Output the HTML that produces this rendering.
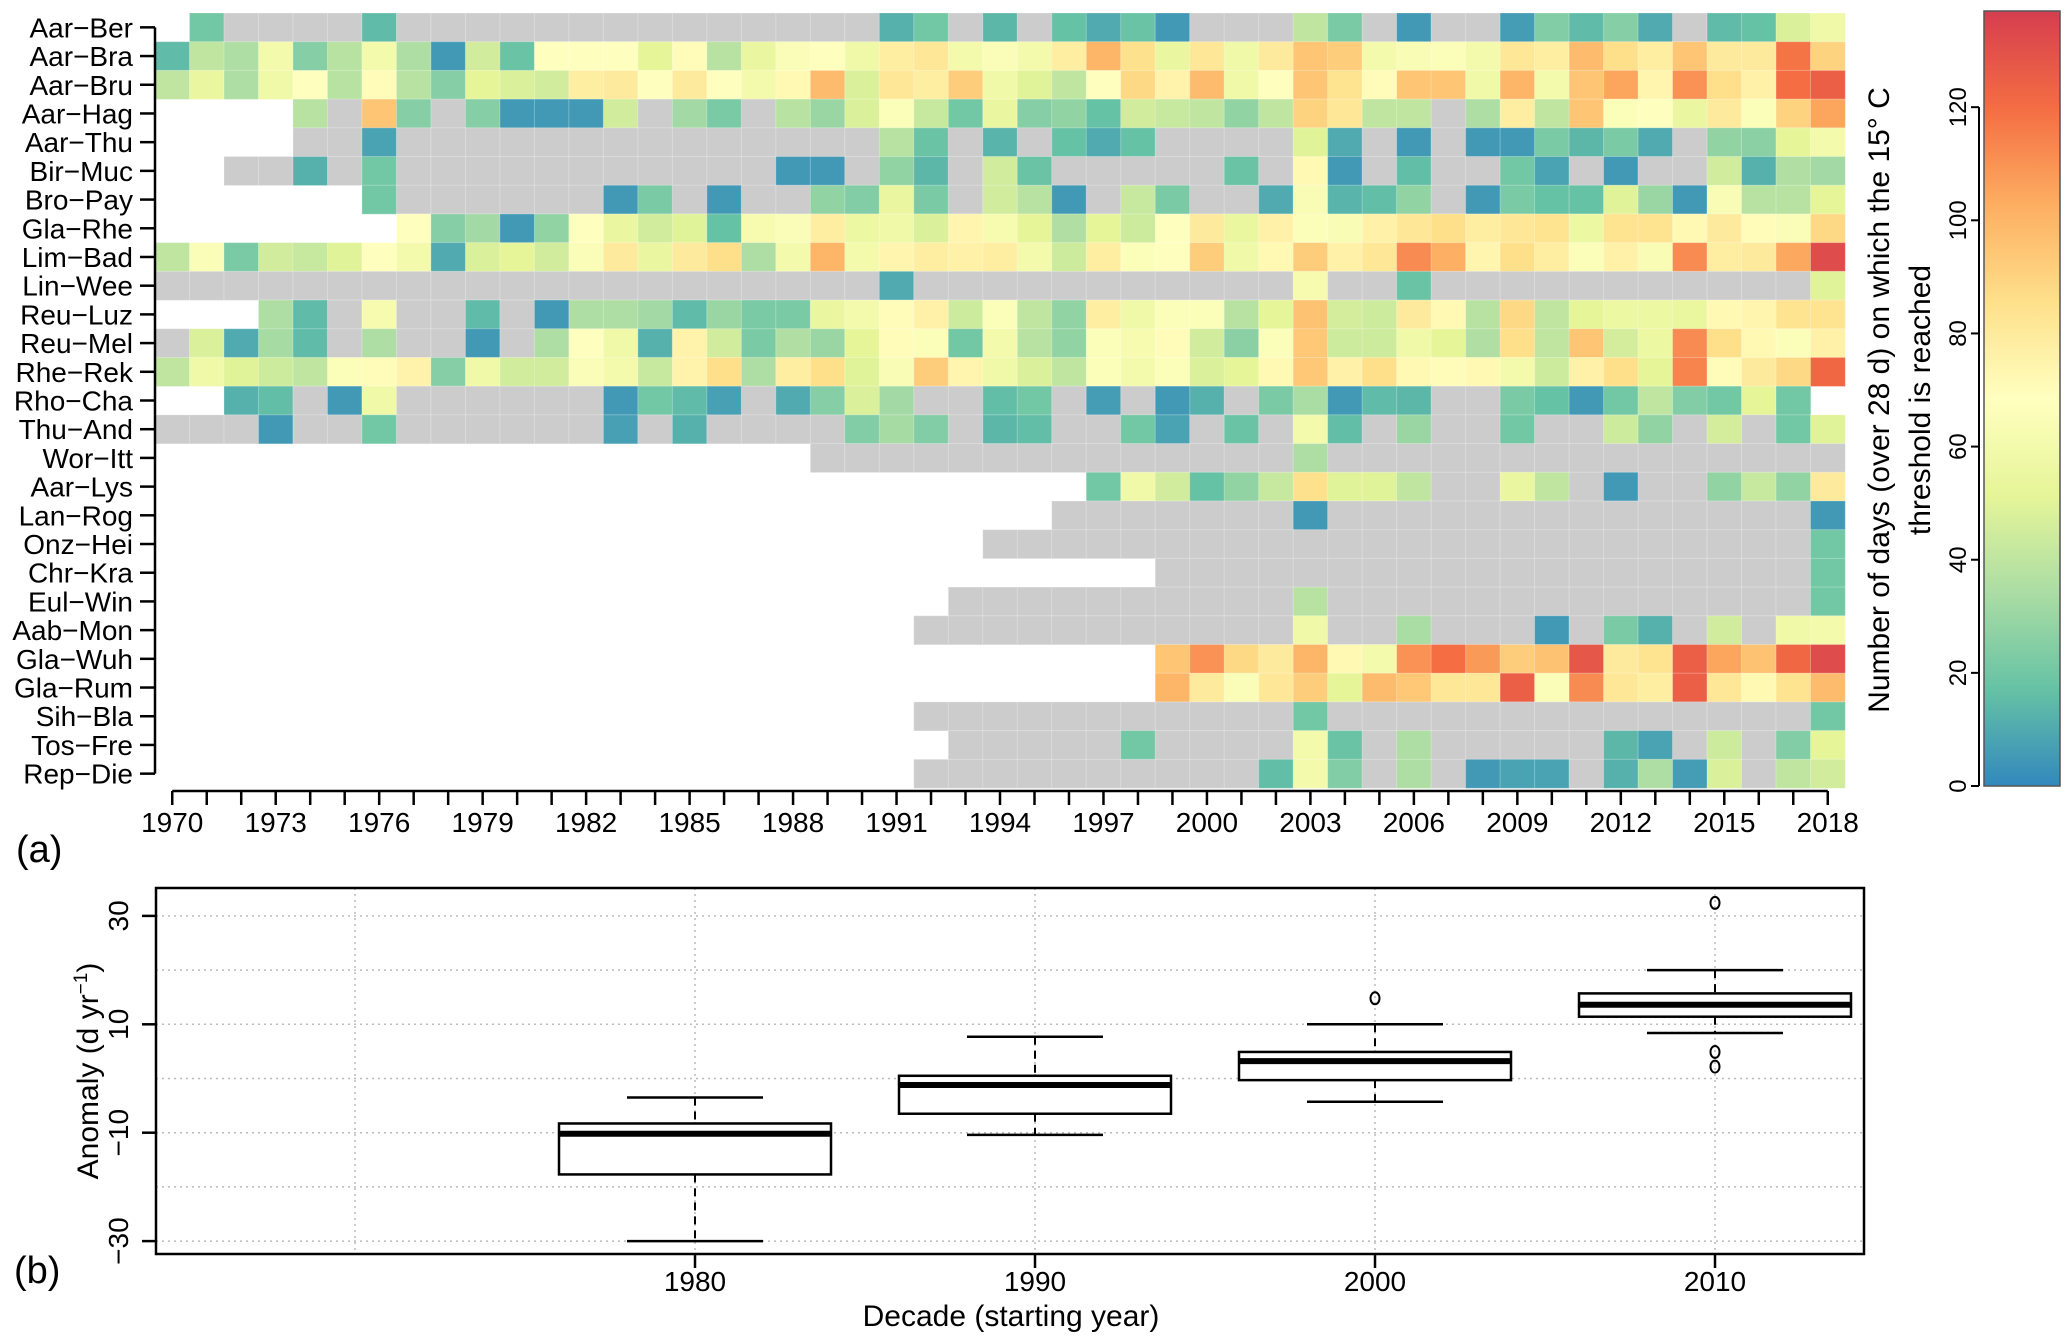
<!DOCTYPE html>
<html><head><meta charset="utf-8"><style>
html,body{margin:0;padding:0;background:#fff;}
svg{display:block;font-family:"Liberation Sans",Arial,sans-serif;}
</style></head><body>
<svg id="fig" width="2067" height="1344" viewBox="0 0 2067 1344" xmlns="http://www.w3.org/2000/svg">
<defs><linearGradient id="cbg" x1="0" y1="1" x2="0" y2="0">
<stop offset="0" stop-color="#3288BD"/><stop offset="0.125" stop-color="#66C2A5"/><stop offset="0.25" stop-color="#ABDDA4"/><stop offset="0.375" stop-color="#E6F598"/><stop offset="0.5" stop-color="#FFFFBF"/><stop offset="0.625" stop-color="#FEE08B"/><stop offset="0.75" stop-color="#FDAE61"/><stop offset="0.875" stop-color="#F46D43"/><stop offset="1" stop-color="#D53E4F"/></linearGradient></defs>
<g id="heat"></g>
<g id="heataxes"></g>
<g id="cbar"></g>
<text x="16" y="862" font-size="38">(a)</text>
<g id="box"></g>
<text x="14" y="1283" font-size="38">(b)</text>
</svg>
<script>
const n = null;
const stations = ["Aar-Ber","Aar-Bra","Aar-Bru","Aar-Hag","Aar-Thu","Bir-Muc","Bro-Pay","Gla-Rhe","Lim-Bad","Lin-Wee","Reu-Luz","Reu-Mel","Rhe-Rek","Rho-Cha","Thu-And","Wor-Itt","Aar-Lys","Lan-Rog","Onz-Hei","Chr-Kra","Eul-Win","Aab-Mon","Gla-Wuh","Gla-Rum","Sih-Bla","Tos-Fre","Rep-Die"];
const years = [1970,1971,1972,1973,1974,1975,1976,1977,1978,1979,1980,1981,1982,1983,1984,1985,1986,1987,1988,1989,1990,1991,1992,1993,1994,1995,1996,1997,1998,1999,2000,2001,2002,2003,2004,2005,2006,2007,2008,2009,2010,2011,2012,2013,2014,2015,2016,2017,2018];
const yearTickLabels = [1970,1973,1976,1979,1982,1985,1988,1991,1994,1997,2000,2003,2006,2009,2012,2015,2018];
const rowAarBer = [n,20,0,0,0,0,15,0,0,0,0,0,0,0,0,0,0,0,0,0,0,12,20,0,14,0,17,10,18,5,0,0,0,40,22,0,5,0,0,6,24,15,25,10,0,15,17,48,58];
const rowAarBra = [15,40,35,60,25,38,60,35,5,45,18,68,68,68,52,70,38,55,65,68,58,78,82,60,65,60,78,100,85,55,82,58,80,95,92,60,64,66,60,82,78,98,86,78,95,80,80,118,90];
const rowAarBru = [40,55,35,58,68,38,70,38,25,52,48,45,78,80,68,80,68,60,72,98,48,82,78,92,58,50,40,68,88,75,98,58,68,95,84,70,95,95,58,100,60,95,105,74,110,86,76,120,125];
const rowAarHag = [n,n,n,n,38,0,95,25,0,25,5,5,5,45,0,32,22,0,38,30,48,66,42,20,55,25,28,17,45,42,40,28,40,90,82,40,40,0,35,78,40,95,66,68,55,80,66,90,105];
const rowAarThu = [n,n,n,n,0,0,8,0,0,0,0,0,0,0,0,0,0,0,0,0,0,38,18,0,13,0,17,10,17,0,0,0,0,50,10,0,5,0,5,5,22,14,22,10,0,28,26,52,60];
const rowBirMuc = [n,n,0,0,12,0,20,0,0,0,0,0,0,0,0,0,0,0,5,5,0,28,14,0,45,18,0,0,0,0,0,18,0,72,5,0,16,0,0,20,8,0,5,0,0,45,12,36,32];
const rowBroPay = [n,n,n,n,n,n,20,0,0,0,0,0,0,5,22,0,5,0,0,28,24,55,22,0,45,38,5,0,42,22,0,0,10,64,13,16,28,0,5,22,17,17,50,30,5,64,38,38,52];
const rowGlaRhe = [n,n,n,n,n,n,n,68,25,32,5,28,68,55,45,50,17,62,65,78,56,58,48,74,62,52,36,52,44,68,80,54,76,66,64,76,82,86,78,82,84,56,84,84,72,80,70,65,88];
const rowLimBad = [40,65,22,45,42,50,68,60,10,48,52,45,65,80,55,80,86,35,60,100,60,74,78,76,78,60,44,78,66,68,92,58,72,92,76,82,112,102,74,86,78,66,76,64,112,78,80,104,132];
const rowLinWee = [0,0,0,0,0,0,0,0,0,0,0,0,0,0,0,0,0,0,0,0,0,10,0,0,0,0,0,0,0,0,0,0,0,62,0,0,18,0,0,0,0,0,0,0,0,0,0,0,50];
const rowReuLuz = [n,n,n,35,15,0,62,0,0,15,0,5,35,35,32,15,30,22,22,55,60,70,76,44,66,40,28,78,58,66,66,38,52,96,46,44,80,72,38,88,40,52,56,56,54,72,74,84,84];
const rowReuMel = [0,48,10,33,15,0,35,0,0,5,0,35,68,58,12,75,45,22,36,30,52,70,66,20,60,38,28,66,62,70,45,26,66,94,44,44,58,52,36,86,40,95,46,56,112,86,72,66,76];
const rowRheRek = [40,58,50,44,40,66,70,75,25,58,45,45,65,60,42,75,86,35,78,86,50,64,92,74,58,48,40,66,60,66,48,52,72,94,76,86,72,70,72,60,44,76,86,52,114,70,80,88,122];
const rowRhoCha = [n,n,12,16,0,5,58,0,0,0,0,0,0,5,20,15,7,0,10,25,48,32,0,0,16,20,0,6,0,5,12,0,22,34,5,15,14,0,0,22,17,5,20,40,24,20,52,20,n];
const rowThuAnd = [0,0,0,5,0,0,20,0,0,0,0,0,0,7,0,12,0,0,0,0,24,33,24,0,14,16,0,0,20,8,0,18,0,60,16,0,30,0,0,20,0,0,44,28,0,46,0,20,50];
const rowWorItt = [n,n,n,n,n,n,n,n,n,n,n,n,n,n,n,n,n,n,n,0,0,0,0,0,0,0,0,0,0,0,0,0,0,35,0,0,0,0,0,0,0,0,0,0,0,0,0,0,0];
const rowAarLys = [n,n,n,n,n,n,n,n,n,n,n,n,n,n,n,n,n,n,n,n,n,n,n,n,n,n,n,20,58,45,17,28,42,85,50,50,40,0,0,55,40,0,5,0,0,28,42,28,80];
const rowLanRog = [n,n,n,n,n,n,n,n,n,n,n,n,n,n,n,n,n,n,n,n,n,n,n,n,n,n,0,0,0,0,0,0,0,5,0,0,0,0,0,0,0,0,0,0,0,0,0,0,5];
const rowOnzHei = [n,n,n,n,n,n,n,n,n,n,n,n,n,n,n,n,n,n,n,n,n,n,n,n,0,0,0,0,0,0,0,0,0,0,0,0,0,0,0,0,0,0,0,0,0,0,0,0,20];
const rowChrKra = [n,n,n,n,n,n,n,n,n,n,n,n,n,n,n,n,n,n,n,n,n,n,n,n,n,n,n,n,n,0,0,0,0,0,0,0,0,0,0,0,0,0,0,0,0,0,0,0,20];
const rowEulWin = [n,n,n,n,n,n,n,n,n,n,n,n,n,n,n,n,n,n,n,n,n,n,n,0,0,0,0,0,0,0,0,0,0,38,0,0,0,0,0,0,0,0,0,0,0,0,0,0,20];
const rowAabMon = [n,n,n,n,n,n,n,n,n,n,n,n,n,n,n,n,n,n,n,n,n,n,0,0,0,0,0,0,0,0,0,0,0,58,0,0,34,0,0,0,5,0,22,12,0,45,0,58,60];
const rowGlaWuh = [n,n,n,n,n,n,n,n,n,n,n,n,n,n,n,n,n,n,n,n,n,n,n,n,n,n,n,n,n,95,110,88,80,100,72,60,110,120,108,92,96,128,80,84,125,105,96,122,132];
const rowGlaRum = [n,n,n,n,n,n,n,n,n,n,n,n,n,n,n,n,n,n,n,n,n,n,n,n,n,n,n,n,n,100,80,65,82,92,52,98,94,82,82,125,65,112,82,78,125,82,72,84,98];
const rowSihBla = [n,n,n,n,n,n,n,n,n,n,n,n,n,n,n,n,n,n,n,n,n,n,0,0,0,0,0,0,0,0,0,0,0,20,0,0,0,0,0,0,0,0,0,0,0,0,0,0,20];
const rowTosFre = [n,n,n,n,n,n,n,n,n,n,n,n,n,n,n,n,n,n,n,n,n,n,n,0,0,0,0,0,20,0,0,0,0,60,18,0,35,0,0,0,0,0,14,8,0,44,0,24,52];
const rowRepDie = [n,n,n,n,n,n,n,n,n,n,n,n,n,n,n,n,n,n,n,n,n,n,0,0,0,0,0,0,0,0,0,0,16,60,24,0,35,0,5,8,8,0,12,35,6,48,0,40,45];
const heatRows = [rowAarBer,rowAarBra,rowAarBru,rowAarHag,rowAarThu,rowBirMuc,rowBroPay,rowGlaRhe,rowLimBad,rowLinWee,rowReuLuz,rowReuMel,rowRheRek,rowRhoCha,rowThuAnd,rowWorItt,rowAarLys,rowLanRog,rowOnzHei,rowChrKra,rowEulWin,rowAabMon,rowGlaWuh,rowGlaRum,rowSihBla,rowTosFre,rowRepDie];
const cbarTicks = [0,20,40,60,80,100,120];

const decades = [1980,1990,2000,2010];
const boxLow = [-30,-10.4,-4.3,8.4];
const boxQ1 = [-17.7,-6.5,-0.3,11.4];
const boxMed = [-10.2,-1.2,3.2,13.6];
const boxQ3 = [-8.3,0.5,4.9,15.7];
const boxHigh = [-3.5,7.7,10,20];
const boxOutliers = [[],[],[14.8],[32.4,4.9,2.2]];
const anomalyTicks = [-30,-10,10,30];
const anomalyGrid = [-30,-20,-10,0,10,20,30];
const decadeGrid = [1970,1980,1990,2000,2010];

const NS = "http://www.w3.org/2000/svg";
function mk(tag, attrs, parent, text){const e=document.createElementNS(NS,tag);for(const k in attrs)e.setAttribute(k,attrs[k]);if(text!==undefined)e.textContent=text;parent.appendChild(e);return e;}

const stops = ["#3288BD","#66C2A5","#ABDDA4","#E6F598","#FFFFBF","#FEE08B","#FDAE61","#F46D43","#D53E4F"];
const VMAX = 137;
function hex(h){return [parseInt(h.slice(1,3),16),parseInt(h.slice(3,5),16),parseInt(h.slice(5,7),16)];}
function color(v){let t=Math.max(0,Math.min(1,v/VMAX))*(stops.length-1);let i=Math.min(Math.floor(t),stops.length-2);let f=t-i;const a=hex(stops[i]),b=hex(stops[i+1]);return "rgb("+a.map((c,k)=>Math.round(c+(b[k]-c)*f)).join(",")+")";}

const HX0=155, HX1=1845, HY0=13, HY1=788;
const cw=(HX1-HX0)/years.length, rh=(HY1-HY0)/stations.length;
const xYear = y => HX0 + (y-years[0])*cw;
const yRow = r => HY0 + r*rh;

const heat=document.getElementById('heat');
heatRows.forEach((row,r)=>{
  row.forEach((v,c)=>{
    if(v===null) return;
    const el=mk('rect',{x:xYear(years[c]).toFixed(2),y:yRow(r).toFixed(2),width:(cw+0.3).toFixed(2),height:(rh+0.3).toFixed(2),fill:v===0?'#cccccc':color(v),stroke:'rgba(255,255,255,0.25)','stroke-width':1},heat);
    
    
  });
});

const ax=document.getElementById('heataxes');
mk('line',{x1:HX0,x2:HX0,y1:yRow(0)+rh/2,y2:yRow(stations.length-1)+rh/2,stroke:'#000','stroke-width':2.5},ax);
stations.forEach((s,r)=>{
  const yc=yRow(r)+rh/2;
  mk('line',{x1:140,x2:HX0,y1:yc,y2:yc,stroke:'#000','stroke-width':2.5},ax);
  const t=mk('text',{x:133,y:yc+10,'text-anchor':'end','font-size':28},ax,s.replace('-','\u2212'));
  
  
});
const AXY=791;
mk('line',{x1:xYear(years[0])+cw/2,x2:xYear(years[years.length-1])+cw/2,y1:AXY,y2:AXY,stroke:'#000','stroke-width':2.5},ax);
years.forEach(y=>{const xc=xYear(y)+cw/2;mk('line',{x1:xc,x2:xc,y1:AXY,y2:AXY+14,stroke:'#000','stroke-width':2.5},ax);});
yearTickLabels.forEach(y=>{
  const t=mk('text',{x:xYear(y)+cw/2,y:832,'text-anchor':'middle','font-size':28},ax,String(y));
  
  
});

const cb=document.getElementById('cbar');
const CBX=1984, CBW=76, CBY0=786, CBY1=11;
const yCb = v => CBY0 - v*(CBY0-CBY1)/VMAX;
mk('rect',{x:CBX,y:CBY1,width:CBW,height:CBY0-CBY1,fill:'url(#cbg)',stroke:'#555','stroke-width':1.5},cb);
mk('line',{x1:1979,x2:1979,y1:yCb(0),y2:yCb(120),stroke:'#000','stroke-width':2},cb);
cbarTicks.forEach(v=>{
  const yy=yCb(v);
  mk('line',{x1:1971,x2:1979,y1:yy,y2:yy,stroke:'#000','stroke-width':2},cb);
  const t=mk('text',{x:1966,y:yy,'text-anchor':'middle','font-size':24,transform:'rotate(-90 1966 '+yy+')'},cb,String(v));
  
  
});
const ct1=mk('text',{x:1889,y:400,'text-anchor':'middle','font-size':30,transform:'rotate(-90 1889 400)'},cb,'Number of days (over 28 d) on which the 15\u00B0 C');


const ct2=mk('text',{x:1930,y:400,'text-anchor':'middle','font-size':30,transform:'rotate(-90 1930 400)'},cb,'threshold is reached');



const bx=document.getElementById('box');
const BX0=156, BX1=1864, BY0=888, BY1=1254;
const xDec = d => 695 + (d-1980)*34.0;
const yAn = v => 1078.5 - v*5.42;
anomalyGrid.forEach(v=>mk('line',{x1:BX0,x2:BX1,y1:yAn(v),y2:yAn(v),stroke:'#bbb','stroke-width':1.5,'stroke-dasharray':'2,4'},bx));
decadeGrid.forEach(d=>mk('line',{x1:xDec(d),x2:xDec(d),y1:BY0,y2:BY1,stroke:'#bbb','stroke-width':1.5,'stroke-dasharray':'2,4'},bx));
mk('rect',{x:BX0,y:BY0,width:BX1-BX0,height:BY1-BY0,fill:'none',stroke:'#000','stroke-width':2.5},bx);
decades.forEach((d,i)=>{
  const xc=xDec(d), hw=136, cap=68;
  const g=mk('g',{},bx);
  
  
  mk('line',{x1:xc,x2:xc,y1:yAn(boxHigh[i]),y2:yAn(boxQ3[i]),stroke:'#000','stroke-width':2,'stroke-dasharray':'8,6'},g);
  mk('line',{x1:xc,x2:xc,y1:yAn(boxQ1[i]),y2:yAn(boxLow[i]),stroke:'#000','stroke-width':2,'stroke-dasharray':'8,6'},g);
  mk('line',{x1:xc-cap,x2:xc+cap,y1:yAn(boxHigh[i]),y2:yAn(boxHigh[i]),stroke:'#000','stroke-width':2.5},g);
  mk('line',{x1:xc-cap,x2:xc+cap,y1:yAn(boxLow[i]),y2:yAn(boxLow[i]),stroke:'#000','stroke-width':2.5},g);
  mk('rect',{x:xc-hw,y:yAn(boxQ3[i]),width:2*hw,height:yAn(boxQ1[i])-yAn(boxQ3[i]),fill:'#fff',stroke:'#000','stroke-width':2.5},g);
  mk('line',{x1:xc-hw,x2:xc+hw,y1:yAn(boxMed[i]),y2:yAn(boxMed[i]),stroke:'#000','stroke-width':6},g);
  boxOutliers[i].forEach(o=>{
    const c=mk('ellipse',{cx:xc,cy:yAn(o),rx:4.5,ry:6,fill:'none',stroke:'#000','stroke-width':2},g);
    
    
  });
  mk('line',{x1:xc,x2:xc,y1:BY1,y2:BY1+14,stroke:'#000','stroke-width':2.5},bx);
  const t=mk('text',{x:xc,y:1291,'text-anchor':'middle','font-size':28},bx,String(d));
  
  
});
anomalyTicks.forEach(v=>{
  const yy=yAn(v);
  mk('line',{x1:BX0-14,x2:BX0,y1:yy,y2:yy,stroke:'#000','stroke-width':2.5},bx);
  const t=mk('text',{x:128,y:yy,'text-anchor':'middle','font-size':28,transform:'rotate(-90 128 '+yy+')'},bx,String(v).replace('-','\u2212'));
  
  
});
const yt=mk('text',{x:98,y:1071,'text-anchor':'middle','font-size':30,transform:'rotate(-90 98 1071)'},bx);


yt.appendChild(document.createTextNode('Anomaly (d yr'));
const sup=document.createElementNS(NS,'tspan');sup.setAttribute('font-size','19');sup.setAttribute('dy','-11');sup.textContent='\u22121';yt.appendChild(sup);
const cl=document.createElementNS(NS,'tspan');cl.setAttribute('dy','11');cl.textContent=')';yt.appendChild(cl);
const xt=mk('text',{x:1011,y:1326,'text-anchor':'middle','font-size':30},bx,'Decade (starting year)');


</script>
</body></html>
